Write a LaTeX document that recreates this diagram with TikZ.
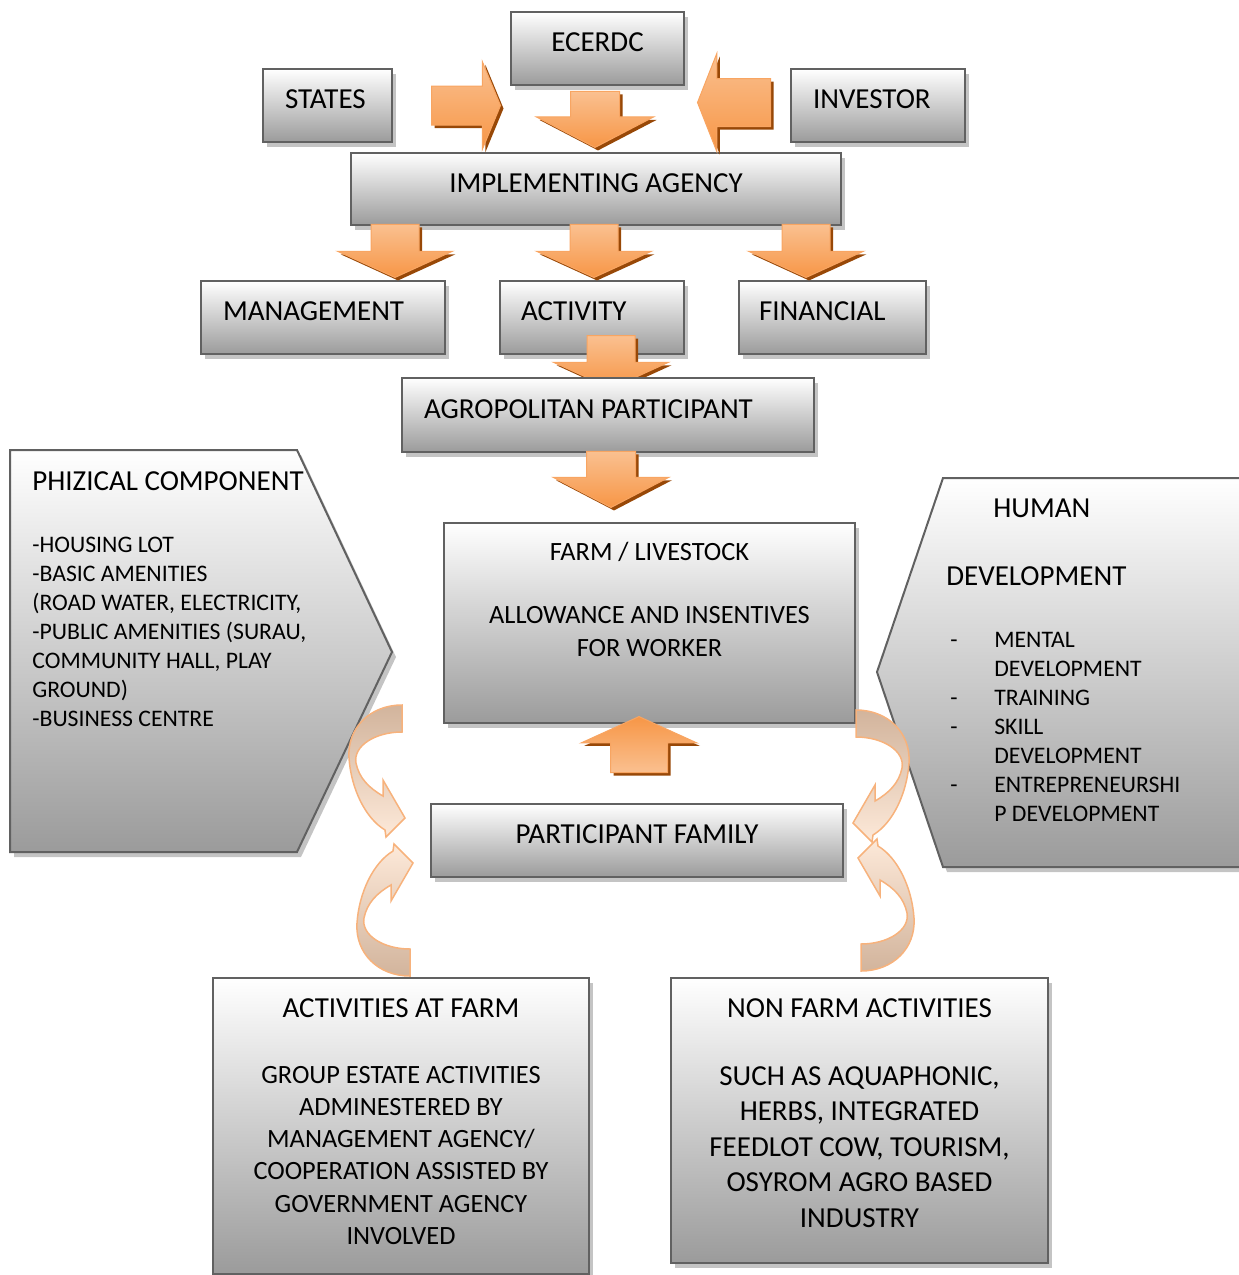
\documentclass[tikz,border=0pt]{standalone}
\usepackage{fontspec}
\setmainfont{Carlito}
\usetikzlibrary{calc,shapes.arrows,shadows}
\definecolor{boxline}{HTML}{616161}
\definecolor{boxgray}{HTML}{9B9B9B}
\definecolor{boxshadow}{HTML}{C4C4C4}
\definecolor{orlight}{HTML}{FAC090}
\definecolor{ormid}{HTML}{F79646}
\definecolor{ordark}{HTML}{984807}
\definecolor{orline}{HTML}{F8A562}
\definecolor{peach}{HTML}{FDE9D9}
\definecolor{peachtan}{HTML}{D2B49C}
\definecolor{peachline}{HTML}{F7B27C}
\newlength\px
\setlength\px{0.02cm}
\newcommand\headfont{\fontsize{16.5}{20.2}\selectfont}
\newcommand\listfont{\fontsize{13.5}{16.55}\selectfont}
\newcommand\hitem[1]{\makebox[48\px][l]{\hspace{4\px}-}#1}

\tikzset{
  lefttext/.style={text width=#1, execute at begin node={\spaceskip=0pt\xspaceskip=0pt\raggedright}},
  midtext/.style={text width=#1, execute at begin node={\spaceskip=0pt\xspaceskip=0pt\centering}},
  panel/.style={draw=boxline, line width=2\px, top color=white, bottom color=boxgray,
    drop shadow={shadow xshift=4\px, shadow yshift=-5\px, fill=boxshadow, opacity=1},
    anchor=north west, inner ysep=0pt, font=\headfont},
  pent/.style={draw=boxline, line width=2\px, top color=white, bottom color=boxgray,
    drop shadow={shadow xshift=4\px, shadow yshift=-5\px, fill=boxshadow, opacity=1}},
  orarrow/.style={single arrow, draw=orline, line width=1\px, top color=orlight, bottom color=ormid,
    inner xsep=0pt, inner ysep=23.5\px, single arrow head extend=33.5\px,
    single arrow tip angle=131, minimum height=53\px,
    drop shadow={shadow xshift=3\px, shadow yshift=-3\px, fill=ordark, opacity=1}},
  curvy/.pic={
    \draw[peachline, line width=1.5\px, top color=peachtan, bottom color=peach, shading angle=#1]
      (-3,-113) .. controls (-35,-113) and (-58,-90) .. (-56,-60)
      .. controls (-54,-30) and (-40,0) .. (-20,12) -- (-19,19) -- (0,0)
      -- (-22,-38) -- (-22,-22)
      .. controls (-36,-30) and (-46,-40) .. (-49,-55)
      .. controls (-52,-72) and (-30,-86) .. (-3,-86) -- cycle;
  }
}

\begin{document}
\begin{tikzpicture}[x=0.02cm, y=-0.02cm]
\useasboundingbox (0,0) rectangle (1239,1275);
\clip (0,0) rectangle (1239,1275);

% side panels
\draw[pent] (10,450) -- (297,450) -- (392,652) -- (297,852) -- (10,852) -- cycle;
\node[anchor=base west, inner sep=0pt, lefttext=300\px, font=\headfont] (phys) at (32,490)
  {PHIZICAL COMPONENT\\[19pt]\listfont -HOUSING LOT\\-BASIC AMENITIES\\(ROAD WATER, ELECTRICITY,\\-PUBLIC AMENITIES (SURAU,\\COMMUNITY HALL, PLAY\\GROUND)\\-BUSINESS CENTRE\par};
\draw[pent] (1260,478) -- (943,478) -- (877,672) -- (943,867) -- (1260,867) -- cycle;
\node[anchor=base west, inner sep=0pt, lefttext=280\px, font=\headfont] (human) at (946,517.4)
  {\hspace*{47\px}HUMAN\\[18.4pt]DEVELOPMENT\\[18.75pt]\listfont
   \hitem{MENTAL}\\\hspace*{48\px}DEVELOPMENT\\\hitem{TRAINING}\\\hitem{SKILL}\\\hspace*{48\px}DEVELOPMENT\\\hitem{ENTREPRENEURSHI}\\\hspace*{48\px}P DEVELOPMENT\par};

% top row
\node[panel, minimum width=173\px, text height=39.5\px, text depth=33.5\px] (ecerdc) at (510,11) {ECERDC};
\node[panel, inner xsep=22\px, lefttext=85\px, text height=39\px, text depth=34\px] (states) at (262,68) {STATES};
\node[panel, inner xsep=22\px, lefttext=130\px, text height=39\px, text depth=34\px] (investor) at (790,68) {INVESTOR};
\node[panel, minimum width=490\px, text height=39\px, text depth=33\px] (impl) at (350,152) {IMPLEMENTING AGENCY};

\node[orarrow, anchor=tail, minimum height=69\px, inner ysep=19\px, single arrow head extend=24.5\px, single arrow tip angle=135] (stimpl) at ($(states.east)+(38,0)$) {};
\node[orarrow, rotate=-90, anchor=tip, minimum height=56\px, inner ysep=24\px, single arrow head extend=34\px, single arrow tip angle=125] (ecimpl) at ($(impl.north)+(-1,-4)$) {};
\node[orarrow, rotate=180, anchor=tail, minimum height=73\px, single arrow head extend=25\px, single arrow tip angle=137] (inimpl) at ($(investor.west)+(-19,-3)$) {};

% second row
\node[panel, inner xsep=22\px, lefttext=200\px, text height=39\px, text depth=34\px] (mgmt) at (200,280) {MANAGEMENT};
\node[panel, inner xsep=21\px, lefttext=142\px, text height=39\px, text depth=34\px] (act) at (499,280) {ACTIVITY};
\node[panel, inner xsep=20\px, lefttext=147\px, text height=39\px, text depth=34\px] (fin) at (738,280) {FINANCIAL};
\node[orarrow, rotate=-90, anchor=tip] (implmgmt) at ($(mgmt.north)+(72,-2)$) {};
\node[orarrow, rotate=-90, anchor=tip] (implact) at ($(act.north)+(2,-2)$) {};
\node[orarrow, rotate=-90, anchor=tip] (implfin) at ($(fin.north)+(-26.5,-2)$) {};
\node[orarrow, rotate=-90, anchor=tail] (actagro) at ($(act.south)+(19,-20)$) {};
\node[panel, inner xsep=22\px, lefttext=368\px, text height=40\px, text depth=34\px] (agro) at (401,377) {AGROPOLITAN PARTICIPANT};

% centre
\node[panel, inner xsep=20\px, midtext=371\px, text height=37.5\px, text depth=162.5\px,
  font=\fontsize{15}{18.7}\selectfont] (farm) at (443,522)
  {FARM / LIVESTOCK\\[17pt]ALLOWANCE AND INSENTIVES\\FOR WORKER\par};
\node[orarrow, rotate=-90, anchor=tip, minimum height=56\px, inner ysep=24\px, single arrow tip angle=125] (agrofarm) at ($(farm.north)+(-38.5,-14)$) {};
\node[orarrow, rotate=90, anchor=tip, minimum height=56\px, inner ysep=28\px, single arrow head extend=29.5\px,
  top color=ormid, bottom color=orlight] (famfarm) at ($(farm.south)+(-10.5,-8)$) {};
\node[panel, minimum width=412\px, text height=39.5\px, text depth=33.5\px] (family) at (430,803) {PARTICIPANT FAMILY};

% bottom row
\node[panel, inner xsep=15\px, midtext=346\px, text height=39.4\px, text depth=256.6\px] (acfarm) at (212,977)
  {ACTIVITIES AT FARM\\[19pt]\fontsize{15}{18.37}\selectfont GROUP ESTATE ACTIVITIES\\ADMINESTERED BY\\MANAGEMENT AGENCY/\\COOPERATION ASSISTED BY\\GOVERNMENT AGENCY\\INVOLVED\par};
\node[panel, inner xsep=15\px, midtext=347\px, text height=39.4\px, text depth=245.6\px] (nonfarm) at (670,977)
  {NON FARM ACTIVITIES\\[18.3pt]\fontsize{16.5}{20.24}\selectfont SUCH AS AQUAPHONIC,\\HERBS, INTEGRATED\\FEEDLOT COW, TOURISM,\\OSYROM AGRO BASED\\INDUSTRY\par};

% curved arrows
\pic at (405,818) {curvy=0};
\pic[yscale=-1] at (413,863) {curvy=180};
\pic[xscale=-1] at (853,823) {curvy=0};
\pic[xscale=-1, yscale=-1] at (858,858) {curvy=180};
\end{tikzpicture}
\end{document}
